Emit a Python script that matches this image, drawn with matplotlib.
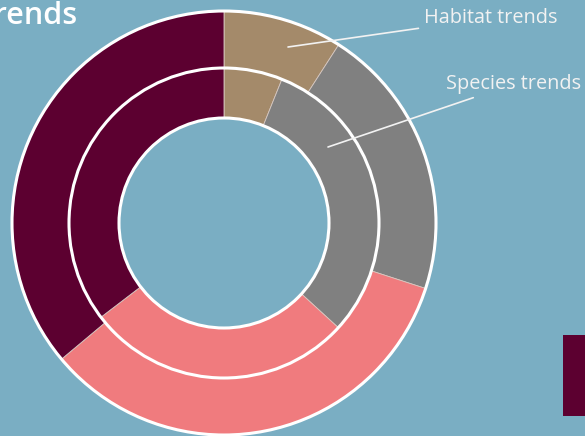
import matplotlib.pyplot as plt
from matplotlib.patches import Circle, Rectangle

# share of each trend category, clockwise from the top
categories = ['Stable', 'Unknown', 'Improving', 'Declining']
habitat_values = [9.1, 20.9, 33.9, 36.1]
species_values = [6.1, 30.7, 27.8, 35.4]
colours = ['#a48a6a', '#808080', '#f07b7e', '#5c0030']

bg = '#7aaec3'

fig = plt.figure(figsize=(5.85, 4.36), dpi=100, facecolor=bg)
ax = fig.add_axes([0, 0, 1, 1])
ax.set_facecolor(bg)

cx, cy = 224, 213
r_out, r_mid, r_in = 212, 155, 105

# outer ring: habitats, inner ring: species
ax.pie(habitat_values, colors=colours, radius=r_out, center=(cx, cy),
       startangle=90, counterclock=False, frame=True,
       wedgeprops=dict(width=r_out - r_mid, edgecolor='#d8c8c0', linewidth=0.6))
ax.pie(species_values, colors=colours, radius=r_mid, center=(cx, cy),
       startangle=90, counterclock=False, frame=True,
       wedgeprops=dict(width=r_mid - r_in, edgecolor='#d8c8c0', linewidth=0.6))
ax.set_xlim(0, 585)
ax.set_ylim(0, 436)
ax.set_aspect('equal')
ax.axis('off')

for r in (r_out, r_mid, r_in):
    ax.add_patch(Circle((cx, cy), r, fill=False, edgecolor='white', linewidth=2.2))

ax.annotate('Habitat trends', xy=(288, 389), xytext=(424, 418),
            color='#f2f2f2', fontsize=14.3, family='Open Sans', va='center', ha='left',
            arrowprops=dict(arrowstyle='-', color='#f2f2f2', lw=1.2, shrinkB=0, shrinkA=2))
ax.annotate('Species trends', xy=(328, 289), xytext=(446, 352),
            color='#f2f2f2', fontsize=14.3, family='Open Sans', va='center', ha='left',
            arrowprops=dict(arrowstyle='-', color='#f2f2f2', lw=1.2, shrinkB=0, shrinkA=2))

ax.text(78, 420, 'Trends', color='white', fontsize=22, family='Open Sans',
        fontweight='semibold', ha='right', va='center')

# legend swatch
ax.add_patch(Rectangle((563, 20), 30, 81, facecolor='#5c0030', edgecolor='none'))

fig.savefig('out.png', dpi=100, facecolor=bg)
